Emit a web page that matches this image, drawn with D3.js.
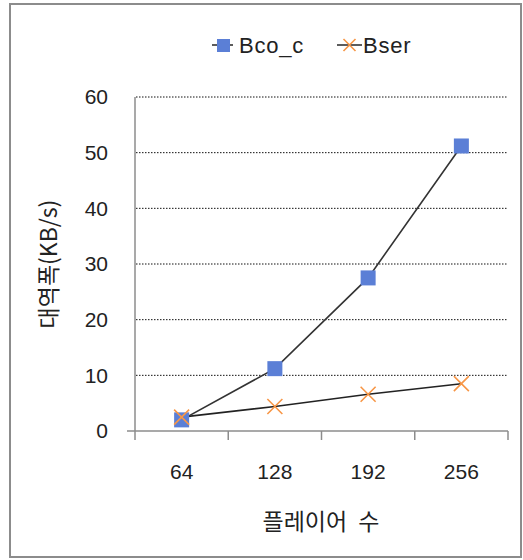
<!DOCTYPE html>
<html>
<head>
<meta charset="utf-8">
<script src="https://cdn.jsdelivr.net/npm/d3@7"></script>
<style>
  body { margin: 0; background: #fff; }
  text { fill: #222; }
</style>
</head>
<body>
<div id="chart-area"></div>
<script>
// player counts on the x axis, bandwidth (KB/s) per series
var players = ["64", "128", "192", "256"];
var bcoC = [2.0, 11.2, 27.5, 51.2];
var bser = [2.5, 4.4, 6.6, 8.5];
var yTicks = [0, 10, 20, 30, 40, 50, 60];

var numFont = "'Liberation Sans', Arial, sans-serif";
var krFont = "'Noto Sans CJK KR', sans-serif";

var svg = d3.select("#chart-area").append("svg")
    .attr("width", 523)
    .attr("height", 560);

// outer frame
svg.append("rect")
    .attr("x", 10).attr("y", 4)
    .attr("width", 511).attr("height", 553)
    .attr("fill", "#fff")
    .attr("stroke", "#8c8c8c")
    .attr("stroke-width", 2);

var x = d3.scaleBand()
    .domain(players)
    .range([135, 508]);

var y = d3.scaleLinear()
    .domain([0, 60])
    .range([431, 97]);

// dotted gridlines
svg.selectAll(".grid")
    .data(yTicks.filter(function(d) { return d > 0; }))
    .enter().append("line")
    .attr("class", "grid")
    .attr("x1", 136).attr("x2", 508)
    .attr("y1", function(d) { return y(d); })
    .attr("y2", function(d) { return y(d); })
    .attr("stroke", "#111")
    .attr("stroke-width", 1)
    .attr("stroke-dasharray", "1.5,1.5");

// y axis labels
var yAxis = svg.append("g")
    .attr("transform", "translate(135,0)")
    .call(d3.axisLeft(y).tickValues(yTicks).tickSize(0).tickPadding(27));
yAxis.select(".domain").remove();
yAxis.selectAll("text")
    .attr("font-family", numFont)
    .attr("font-size", 21)
    .attr("fill", "#2a2a2a");

// y axis line
svg.append("line")
    .attr("x1", 135).attr("x2", 135)
    .attr("y1", y(60)).attr("y2", y(0))
    .attr("stroke", "#8c8c8c").attr("stroke-width", 1.5);

// x axis labels at band centres
var xAxis = svg.append("g")
    .attr("transform", "translate(0," + y(0) + ")")
    .call(d3.axisBottom(x).tickSize(0).tickPadding(33));
xAxis.select(".domain").remove();
xAxis.selectAll("text")
    .attr("font-family", numFont)
    .attr("font-size", 21)
    .attr("fill", "#2a2a2a");

// x axis line and ticks on band edges
svg.append("line")
    .attr("x1", 127).attr("x2", 508)
    .attr("y1", y(0)).attr("y2", y(0))
    .attr("stroke", "#8c8c8c").attr("stroke-width", 1.5);

var edges = players.map(function(d) { return x(d); }).concat([x.range()[1]]);
svg.selectAll(".xtick")
    .data(edges)
    .enter().append("line")
    .attr("class", "xtick")
    .attr("x1", function(d) { return d; })
    .attr("x2", function(d) { return d; })
    .attr("y1", y(0)).attr("y2", y(0) + 9)
    .attr("stroke", "#8c8c8c").attr("stroke-width", 1.5);

var line = d3.line()
    .x(function(d, i) { return x(players[i]) + x.bandwidth() / 2; })
    .y(function(d) { return y(d); });

svg.append("path")
    .datum(bser)
    .attr("d", line)
    .attr("fill", "none")
    .attr("stroke", "#222")
    .attr("stroke-width", 1.6);

svg.append("path")
    .datum(bcoC)
    .attr("d", line)
    .attr("fill", "none")
    .attr("stroke", "#333")
    .attr("stroke-width", 1.6);

function cross(g, cx, cy, r) {
    g.append("path")
        .attr("d", "M" + (cx - r) + "," + (cy - r) + "L" + (cx + r) + "," + (cy + r) +
                   "M" + (cx - r) + "," + (cy + r) + "L" + (cx + r) + "," + (cy - r))
        .attr("stroke", "#f79646")
        .attr("stroke-width", 1.6)
        .attr("fill", "none");
}

// Bco_c squares
svg.selectAll(".sq")
    .data(bcoC)
    .enter().append("rect")
    .attr("class", "sq")
    .attr("x", function(d, i) { return x(players[i]) + x.bandwidth() / 2 - 7.5; })
    .attr("y", function(d) { return y(d) - 7.5; })
    .attr("width", 15).attr("height", 15)
    .attr("fill", "#5b7fd6");

// Bser crosses
var crossG = svg.append("g");
bser.forEach(function(d, i) {
    cross(crossG, x(players[i]) + x.bandwidth() / 2, y(d), 7.5);
});

// legend
var leg = svg.append("g");
leg.append("line")
    .attr("x1", 212).attr("x2", 233).attr("y1", 45).attr("y2", 45)
    .attr("stroke", "#333").attr("stroke-width", 1.6);
leg.append("rect")
    .attr("x", 217).attr("y", 39).attr("width", 13).attr("height", 13)
    .attr("fill", "#5b7fd6");
leg.append("text")
    .attr("x", 239).attr("y", 53)
    .attr("font-family", numFont).attr("font-size", 22)
    .attr("letter-spacing", 0.8)
    .text("Bco_c");
leg.append("line")
    .attr("x1", 337).attr("x2", 362).attr("y1", 45).attr("y2", 45)
    .attr("stroke", "#333").attr("stroke-width", 1.6);
cross(leg, 349.5, 45, 6);
leg.append("text")
    .attr("x", 363).attr("y", 53)
    .attr("font-family", numFont).attr("font-size", 22)
    .attr("letter-spacing", 0.8)
    .text("Bser");

// axis titles
svg.append("text")
    .attr("x", 321).attr("y", 530)
    .attr("text-anchor", "middle")
    .attr("font-family", krFont).attr("font-size", 23)
    .attr("word-spacing", 6)
    .text("플레이어 수");

svg.append("text")
    .attr("transform", "translate(57,264) rotate(-90)")
    .attr("text-anchor", "middle")
    .attr("font-family", krFont).attr("font-size", 23)
    .text("대역폭(KB/s)");
</script>
</body>
</html>
